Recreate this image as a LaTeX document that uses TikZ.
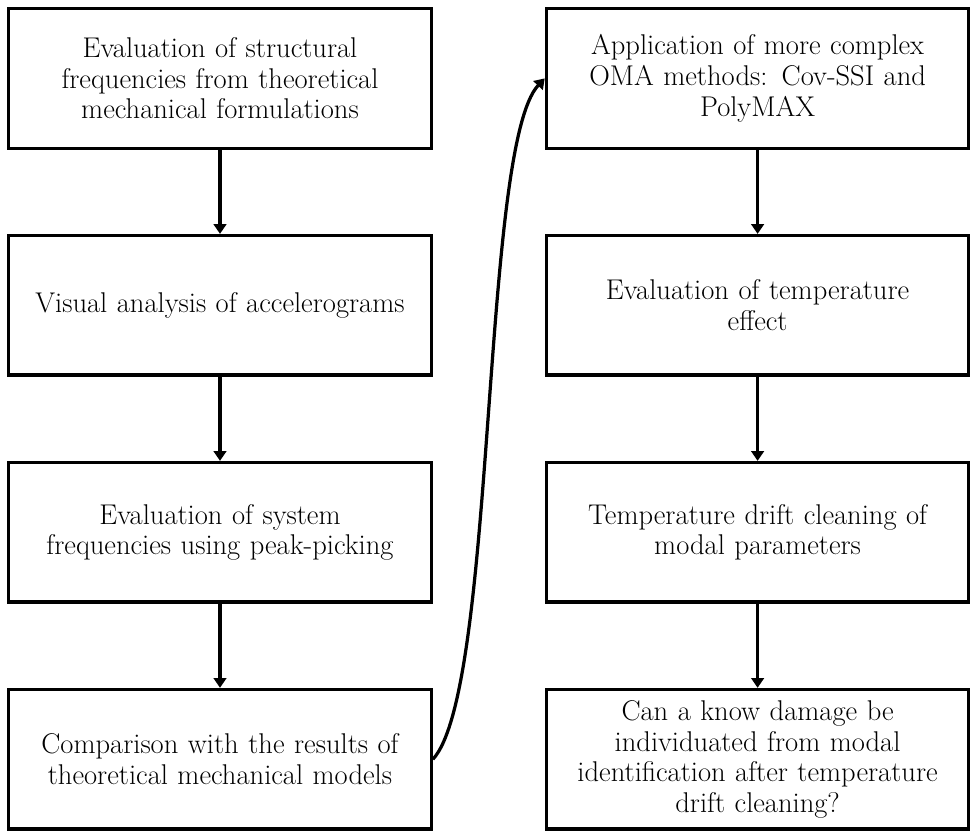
\documentclass[tikz,border=0pt]{standalone}
\usepackage{tikz}
\usetikzlibrary{arrows.meta, positioning}

\begin{document}
\begin{tikzpicture}[
  stepbox/.style={draw, line width=2.4pt, minimum width=10.56cm, minimum height=3.49cm, text width=10.2cm, align=center, font=\fontsize{20.3}{21.8}\selectfont},
  flow/.style={-{Triangle[width=9pt,length=7pt]}, line width=2.3pt},
  node distance=2.1cm
]
\useasboundingbox (0,0) rectangle (24.5,-20.95);
\node[stepbox] (l1) at (5.5,-1.96) {Evaluation of structural\\ frequencies from theoretical\\ mechanical formulations};
\node[stepbox, below=of l1] (l2) {Visual analysis of accelerograms};
\node[stepbox, below=of l2] (l3) {Evaluation of system\\ frequencies using peak-picking};
\node[stepbox, below=of l3] (l4) {Comparison with the results of\\ theoretical mechanical models};
\node[stepbox] (r1) at (18.94,-1.96) {Application of more complex\\ OMA methods: Cov-SSI and\\ PolyMAX};
\node[stepbox, below=of r1] (r2) {Evaluation of temperature\\ effect};
\node[stepbox, below=of r2] (r3) {Temperature drift cleaning of\\ modal parameters};
\node[stepbox, below=of r3] (r4) {Can a know damage be\\ individuated from modal\\ identification after temperature\\ drift cleaning?};
\draw[flow] (l1) -- (l2);
\draw[flow] (l2) -- (l3);
\draw[flow] (l3) -- (l4);
\draw[flow] (l4.east) .. controls +(1.6,1.75) and +(-1.6,-1.7) .. (r1.west);
\draw[flow] (r1) -- (r2);
\draw[flow] (r2) -- (r3);
\draw[flow] (r3) -- (r4);
\end{tikzpicture}
\end{document}
